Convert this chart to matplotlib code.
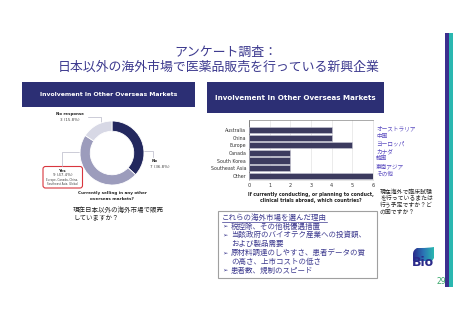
import matplotlib
matplotlib.use("Agg")
import matplotlib.pyplot as plt
import numpy as np
from matplotlib.patches import Rectangle, FancyBboxPatch, PathPatch
from matplotlib.path import Path

W, H = 453, 320

# donut data
pie_labels = ["No", "Yes", "No response"]
pie_counts = [7, 9, 3]
pie_colors = ["#23285e", "#9c9cbc", "#d7d8e5"]

# bar data
countries = ["Australia", "China", "Europe", "Canada", "South Korea", "Southeast Asia", "Other"]
countries_jp = ["オーストラリア", "中国", "ヨーロッパ", "カナダ", "韓国", "東南アジア", "その他"]
country_counts = [4, 4, 5, 2, 2, 2, 6]
x_ticks = [0, 1, 2, 3, 4, 5, 6]

# (text, is bullet line)
reason_lines = [
    ("税控除、その他税優遇措置", True),
    ("当該政府のバイオテク産業への投資額、", True),
    ("および製品需要", False),
    ("原材料調達のしやすさ、患者データの質", True),
    ("の高さ、上市コストの低さ", False),
    ("患者数、規制のスピード", True),
]

JP = ["Noto Sans CJK JP", "DejaVu Sans"]
TXT = "#3d3a8f"
NAVY = "#2c2f74"


def px_axes(fig, x0, y0, x1, y1):
    return fig.add_axes([x0 / W, 1 - y1 / H, (x1 - x0) / W, (y1 - y0) / H])


def lines(ax, x, y0, step, texts, **kw):
    for i, t in enumerate(texts):
        ax.text(x, y0 + i * step, t, va="center", **kw)


fig = plt.figure(figsize=(W / 100, H / 100), dpi=100)
fig.patch.set_facecolor("white")

ov = fig.add_axes([0, 0, 1, 1])
ov.set_xlim(0, W)
ov.set_ylim(H, 0)
ov.axis("off")

# title
ov.text(226, 52, "アンケート調査：", family=JP, fontsize=9.3, color=TXT, ha="center", va="center")
ov.text(219, 67, "日本以外の海外市場で医薬品販売を行っている新興企業", family=JP, fontsize=9.3,
        color=TXT, ha="center", va="center")

# side stripes
ov.add_patch(Rectangle((445, 33), 3.7, 254, color="#3b2e8e", lw=0))
ov.add_patch(Rectangle((448.7, 33), 4.5, 254, color="#2ab7b0", lw=0))

# header boxes
ov.add_patch(Rectangle((22, 82), 173, 24.5, color=NAVY, lw=0))
ov.text(108.5, 95, "Involvement In Other Overseas Markets", color="white", fontsize=4.4,
        fontweight="bold", ha="center", va="center")
ov.add_patch(Rectangle((207, 82), 177, 31, color=NAVY, lw=0))
ov.text(295.5, 98, "Involvement In Other Overseas Markets", color="white", fontsize=5.1,
        fontweight="bold", ha="center", va="center")

# donut
ax1 = px_axes(fig, 80, 121, 144, 185)
ax1.pie(pie_counts, colors=pie_colors, startangle=90, counterclock=False,
        wedgeprops=dict(width=0.32, edgecolor="white", linewidth=0.6))
ax1.set_xlim(-1, 1)
ax1.set_ylim(-1, 1)
ax1.set_aspect("equal")

total = sum(pie_counts)
pct = {lab: f"{n} ({n / total * 100:.1f}%)" for lab, n in zip(pie_labels, pie_counts)}

lc = "#b8b8c8"
ov.plot([88, 101, 101], [117, 117, 123], color=lc, lw=0.5)
ov.text(70, 114, "No response", fontsize=2.9, fontweight="bold", ha="center", va="center", color="#222")
ov.text(70, 120, pct["No response"], fontsize=2.9, ha="center", va="center", color="#444")

ov.plot([143, 153, 153], [151, 151, 157], color=lc, lw=0.5)
ov.text(152, 161, "No", fontsize=2.9, fontweight="bold", ha="left", va="center", color="#222")
ov.text(150, 167, pct["No"], fontsize=2.9, ha="left", va="center", color="#444")

ov.plot([62, 62, 81], [166, 152, 152], color=lc, lw=0.5)
ov.add_patch(FancyBboxPatch((43, 166.5), 39.5, 21.5, boxstyle="round,pad=0,rounding_size=2.5",
                            fc="white", ec="#d9363e", lw=0.8))
ov.text(62.5, 170.5, "Yes", fontsize=2.9, fontweight="bold", ha="center", va="center", color="#222")
ov.text(62.5, 175.5, pct["Yes"], fontsize=2.9, ha="center", va="center", color="#444")
ov.text(62.5, 180, "Europe, Canada, China,", fontsize=2.0, ha="center", va="center", color="#444")
ov.text(62.5, 184, "Southeast Asia, Global", fontsize=2.0, ha="center", va="center", color="#444")

lines(ov, 112, 193, 6, ["Currently selling in any other", "overseas markets?"], fontsize=3.0,
      fontweight="bold", ha="center", color="#222")
lines(ov, 73, 210, 8, ["現在日本以外の海外市場で販売", "していますか？"], family=JP, fontsize=4.7,
      ha="left", color="#222")

# bar chart
ax2 = px_axes(fig, 249, 120, 373, 180)
ypos = np.arange(len(countries))
ax2.barh(ypos, country_counts, height=0.8, color="#3c3b5f", edgecolor="#c9c9d6", linewidth=0.4, zorder=3)
ax2.set_yticks(ypos)
ax2.set_yticklabels(countries, fontsize=3.4, color="#333")
ax2.set_xticks(x_ticks)
ax2.set_xticklabels([str(t) for t in x_ticks], fontsize=3.6, color="#333")
ax2.set_xlim(0, 6)
ax2.set_ylim(6.55, -1.3)
ax2.tick_params(length=0, pad=2)
ax2.grid(axis="x", color="#e3e3e3", lw=0.5, zorder=0)
for s in ax2.spines.values():
    s.set_color("#dddddd")
    s.set_linewidth(0.5)
ax2.spines["left"].set_color("#555555")
ax2.spines["top"].set_color("#888888")
ax2.set_xlabel("If currently conducting, or planning to conduct,\nclinical trials abroad, which countries?",
               fontsize=3.3, fontweight="bold", color="#222", labelpad=3, linespacing=1.3)
for i, jp in enumerate(countries_jp):
    ax2.text(1.025, i - 0.2, jp, transform=ax2.get_yaxis_transform(), family=JP, fontsize=4.1,
             color="#5a4bc0", ha="left", va="center")

lines(ov, 380, 192, 6.6, ["現在海外で臨床試験", "を行っているまたは", "行う予定ですか？ど", "の国ですか？"],
      family=JP, fontsize=4.2, ha="left", color="#222")

# reasons box
ov.add_patch(Rectangle((218, 211), 159, 67, fc="white", ec="#a0a0a0", lw=0.8))
ov.text(222, 217.5, "これらの海外市場を選んだ理由", family=JP, fontsize=5.4, color=TXT,
        ha="left", va="center")
ov.plot([222, 327], [221.8, 221.8], color=TXT, lw=0.5)
for i, (t, bullet) in enumerate(reason_lines):
    y = 226.5 + i * 8.8
    if bullet:
        ov.text(222, y, "➢", family="DejaVu Sans", fontsize=4.6, color=TXT, ha="left", va="center")
    ov.text(231, y, t, family=JP, fontsize=5.4, color=TXT, ha="left", va="center")

# logo
verts = [(413, 261), (413, 254), (413, 250), (417, 248), (421, 248), (428, 248), (434, 247),
         (434, 247), (434, 252), (434, 258), (432, 261), (413, 261)]
codes = [Path.MOVETO, Path.LINETO, Path.CURVE3, Path.CURVE3, Path.LINETO, Path.CURVE3, Path.CURVE3,
         Path.LINETO, Path.CURVE3, Path.CURVE3, Path.LINETO, Path.CLOSEPOLY]
leaf = PathPatch(Path(verts, codes), fc="none", ec="none")
ov.add_patch(leaf)
grad = np.linspace(0, 1, 64).reshape(1, -1)
im = ov.imshow(grad, extent=(413, 434, 261, 247), cmap=matplotlib.colors.LinearSegmentedColormap.from_list(
    "bio", ["#2b2a8a", "#2a74b5", "#2ab7b0"]), aspect="auto", zorder=2)
im.set_clip_path(leaf)
ov.set_xlim(0, W)
ov.set_ylim(H, 0)
ov.text(423, 263, "Bio", fontsize=9, fontweight="bold", color="#2b2a8a", ha="center", va="center", zorder=3)
ov.text(441, 281, "29", fontsize=5.5, color="#3aa86b", ha="center", va="center")

fig.savefig("out.png", dpi=100)
